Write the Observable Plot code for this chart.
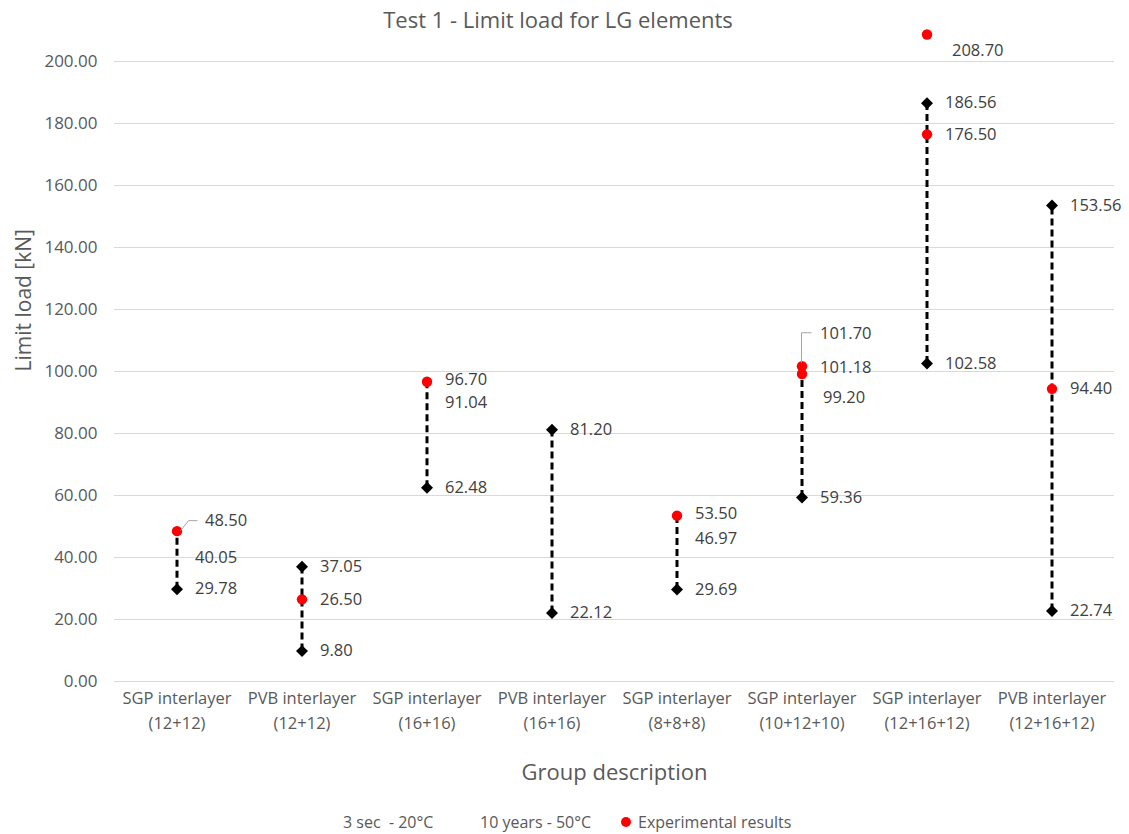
<!DOCTYPE html>
<html><head><meta charset="utf-8">
<script src="https://cdn.jsdelivr.net/npm/d3@7"></script>
<script src="https://cdn.jsdelivr.net/npm/@observablehq/plot@0.6"></script>
<style>
body{margin:0;background:#fff;font-family:"Open Sans",sans-serif;}
#wrap{width:1129px;height:834px;position:relative;overflow:hidden;background:#fff;}
#title{height:30px;box-sizing:border-box;padding-top:5px;padding-right:13px;text-align:center;font-size:22px;line-height:28px;color:#595959;}
#legend{height:44px;box-sizing:border-box;padding-top:22px;padding-left:343px;font-size:16px;line-height:20px;color:#595959;white-space:pre;position:relative;}
#legend span{position:absolute;top:22px;}
.dot{display:inline-block;width:10px;height:10px;border-radius:50%;background:#ff0000;}
</style></head>
<body><div id="wrap">
<div id="title">Test 1 - Limit load for LG elements</div>
<div id="chart"></div>
<div id="legend"></div>
</div>
<script>
// ---- data ----
const groups = ["SGP interlayer\n(12+12)", "PVB interlayer\n(12+12)", "SGP interlayer\n(16+16)", "PVB interlayer\n(16+16)",
  "SGP interlayer\n(8+8+8)", "SGP interlayer\n(10+12+10)", "SGP interlayer\n(12+16+12)", "PVB interlayer\n(12+16+12)"];
const sec3 = [40.05, 37.05, 91.04, 81.20, 46.97, 101.18, 186.56, 153.56];      // 3 sec - 20°C
const years10 = [29.78, 9.80, 62.48, 22.12, 29.69, 59.36, 102.58, 22.74];     // 10 years - 50°C
const experimental = [48.50, 26.50, 96.70, null, 53.50, 101.70, 176.50, 94.40];
const experimental2 = [null, null, null, null, null, 99.20, 208.70, null];
const yTicks = [0, 20, 40, 60, 80, 100, 120, 140, 160, 180, 200];
const seriesNames = ["3 sec  - 20°C", "10 years - 50°C", "Experimental results"];

// ---- layout (label nudges & leader lines, pixels) ----
const defaultLabelOffset = [18, 0];
const labelNudge = {
  "0-exp": [28, -10], "5-exp": [18, -33], "5-exp2": [21, 24], "6-exp2": [25, 16],
  "2-exp": [18, -2], "2-sec3": [18, 3], "4-exp": [18, -2], "4-sec3": [18, 3]
};
const leaders = [
  {i: 0, key: "exp", pts: [[4, 0], [12, -10], [21, -10]]},
  {i: 5, key: "exp", pts: [[0, -3], [0, -33], [10, -33]]}
];

// ---- build tables ----
const points = [];
groups.forEach((g, i) => {
  points.push({group: g, i, key: "sec3", value: sec3[i]});
  points.push({group: g, i, key: "years10", value: years10[i]});
  if (experimental[i] != null) points.push({group: g, i, key: "exp", value: experimental[i]});
  if (experimental2[i] != null) points.push({group: g, i, key: "exp2", value: experimental2[i]});
});
const ranges = groups.map((g, i) => {
  const v = [sec3[i], years10[i], experimental[i]].filter(d => d != null);
  return {group: g, lo: d3.min(v), hi: d3.max(v)};
});
const diamonds = points.filter(p => (p.key === "sec3" || p.key === "years10") &&
  (p.value === ranges[p.i].lo || p.value === ranges[p.i].hi));
const reds = points.filter(p => p.key === "exp" || p.key === "exp2");

const labelFont = {fontSize: 16.5, fill: "#404040", textAnchor: "start"};
const defaultLabels = points.filter(p => !labelNudge[`${p.i}-${p.key}`]);
const nudgedLabelMarks = Object.entries(labelNudge).map(([k, [dx, dy]]) => {
  const d = points.filter(p => `${p.i}-${p.key}` === k);
  return Plot.text(d, {x: "group", y: "value", text: p => p.value.toFixed(2), dx, dy, ...labelFont});
});

const chart = Plot.plot({
  width: 1129, height: 760,
  marginLeft: 114, marginRight: 15, marginTop: 31, marginBottom: 109,
  style: {fontFamily: "Open Sans, sans-serif", overflow: "visible", background: "transparent", color: "#595959"},
  x: {type: "band", domain: groups, padding: 0},
  y: {domain: [0, 200]},
  marks: [
    Plot.gridY(yTicks, {stroke: "#d9d9d9", strokeOpacity: 1, strokeWidth: 1}),
    Plot.axisY(yTicks, {tickSize: 0, tickPadding: 17, tickFormat: d => d.toFixed(2), fontSize: 17, label: null}),
    Plot.axisX(groups, {tickSize: 0, tickPadding: 4, fontSize: 16.5, lineHeight: 1.55, label: null}),
    Plot.text(["Limit load [kN]"], {frameAnchor: "left", dx: -90, rotate: -90, fontSize: 21, fill: "#595959"}),
    Plot.text(["Group description"], {frameAnchor: "bottom", dy: 98, fontSize: 22, fill: "#595959"}),
    Plot.ruleX(ranges, {x: "group", y1: "lo", y2: "hi", stroke: "black", strokeWidth: 3, strokeDasharray: "7,4"}),
    Plot.dot(diamonds, {x: "group", y: "value", symbol: "diamond2", r: 5.4, fill: "black", stroke: "none"}),
    Plot.dot(reds, {x: "group", y: "value", r: 5.2, fill: "#ff0000", stroke: "none"}),
    (index, scales) => {
      const bw = scales.x(groups[1]) - scales.x(groups[0]);
      const g = d3.create("svg:g");
      for (const l of leaders) {
        const p = points.find(q => q.i === l.i && q.key === l.key);
        const cx = scales.x(groups[l.i]) + bw / 2, cy = scales.y(p.value);
        g.append("polyline")
          .attr("points", l.pts.map(([dx, dy]) => `${cx + dx},${cy + dy}`).join(" "))
          .attr("fill", "none").attr("stroke", "#a6a6a6").attr("stroke-width", 1);
      }
      return g.node();
    },
    Plot.text(defaultLabels, {x: "group", y: "value", text: p => p.value.toFixed(2), dx: defaultLabelOffset[0], dy: defaultLabelOffset[1], ...labelFont}),
    ...nudgedLabelMarks
  ]
});
document.getElementById("chart").appendChild(chart);

// legend
const lg = document.getElementById("legend");
lg.innerHTML = `<span style="left:343px">${seriesNames[0]}</span>` +
  `<span style="left:480px">${seriesNames[1]}</span>` +
  `<span style="left:621px;top:27px" class="dot"></span>` +
  `<span style="left:638px">${seriesNames[2]}</span>`;
</script>
</body></html>
